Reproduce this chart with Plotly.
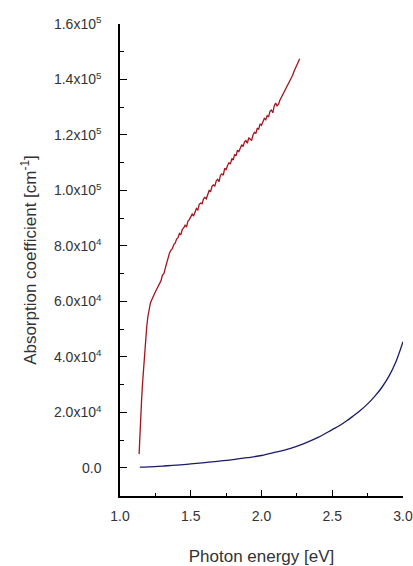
import plotly.graph_objects as go

red_x = [1.135, 1.140, 1.145, 1.153, 1.160, 1.166, 1.172, 1.180, 1.189, 1.197, 1.205, 1.215, 1.224, 1.235,
         1.25, 1.26, 1.275, 1.29, 1.30, 1.31, 1.32, 1.33, 1.34, 1.35, 1.36, 1.37, 1.38, 1.39, 1.40, 1.41,
         1.42, 1.43, 1.44, 1.45, 1.46, 1.47, 1.48, 1.49, 1.50, 1.51, 1.52, 1.53, 1.54, 1.55, 1.56, 1.57,
         1.58, 1.59, 1.60, 1.61, 1.62, 1.63, 1.64, 1.65, 1.66, 1.67, 1.68, 1.69, 1.70, 1.71, 1.72, 1.73,
         1.74, 1.75, 1.76, 1.77, 1.78, 1.79, 1.80, 1.81, 1.82, 1.83, 1.84, 1.85, 1.86, 1.87, 1.88, 1.89,
         1.90, 1.91, 1.92, 1.93, 1.94, 1.95, 1.96, 1.97, 1.98, 1.99, 2.00, 2.01, 2.02, 2.03, 2.04, 2.05,
         2.06, 2.07, 2.08, 2.09, 2.10, 2.11, 2.12, 2.13, 2.14, 2.15, 2.16, 2.17, 2.18, 2.19, 2.20, 2.21,
         2.22, 2.23, 2.24, 2.25, 2.26, 2.27]
red_y = [5000, 12000, 18000, 25000, 31000, 36000, 40000, 46000, 51000, 54500, 57000, 59500, 60500, 62000,
         63500, 64500, 66000, 67500, 69500, 70000, 72000, 74000, 75500, 77500, 78500, 79000, 80500, 81000,
         82500, 83000, 84500, 84000, 86000, 86500, 87500, 86800, 89000, 89500, 90500, 91500, 90800, 92500,
         93500, 93000, 95000, 95500, 95200, 97000, 97500, 97000, 99000, 100000, 99500, 101500, 102000,
         101500, 103500, 104000, 103200, 105500, 106000, 105500, 108000, 107500, 109000, 110000, 109500,
         111500, 111000, 113000, 112500, 114500, 114000, 115500, 116500, 115800, 117500, 118000, 117000,
         119000, 118500, 118000, 120000, 121000, 120500, 122500, 122000, 124000, 123500, 125000, 126000,
         125500, 127000, 126500, 128500, 129000, 128000, 130500, 131500, 130500, 131000, 132500, 133500,
         134500, 135000, 136000, 137000, 138500, 139500, 140500, 141500, 143000, 144000, 145000, 146500,
         147500]

blue_x = [1.14, 1.20, 1.30, 1.40, 1.50, 1.60, 1.70, 1.80, 1.90, 2.00, 2.10, 2.20, 2.30, 2.40, 2.50,
          2.55, 2.60, 2.65, 2.70, 2.75, 2.80, 2.85, 2.90, 2.95, 3.00]
blue_y = [300, 400, 700, 1000, 1450, 1900, 2450, 3000, 3700, 4500, 5700, 7000, 8800, 11000, 13800,
          15200, 16900, 18800, 20800, 23100, 25800, 29000, 33000, 38300, 45500]

x_ticks = [1.0, 1.5, 2.0, 2.5, 3.0]
x_tick_text = ["1.0", "1.5", "2.0", "2.5", "3.0"]
y_ticks = [0, 20000, 40000, 60000, 80000, 100000, 120000, 140000, 160000]
y_tick_text = ["0.0", "2.0x10<sup>4</sup>", "4.0x10<sup>4</sup>", "6.0x10<sup>4</sup>",
               "8.0x10<sup>4</sup>", "1.0x10<sup>5</sup>", "1.2x10<sup>5</sup>",
               "1.4x10<sup>5</sup>", "1.6x10<sup>5</sup>"]

fig = go.Figure()
fig.add_trace(go.Scatter(x=red_x, y=red_y, mode="lines",
                         line=dict(color="#a3141c", width=1.3), showlegend=False))
fig.add_trace(go.Scatter(x=blue_x, y=blue_y, mode="lines", line_shape="spline",
                         line=dict(color="#1c1a6b", width=1.3), showlegend=False))

font_family = "Liberation Sans, Arial, sans-serif"
fig.update_layout(
    width=413, height=566,
    margin=dict(l=120, r=10, t=24, b=70),
    paper_bgcolor="white", plot_bgcolor="white",
    font=dict(family=font_family, color="#333333"),
    xaxis=dict(
        range=[1.0, 3.0], tickvals=x_ticks, ticktext=x_tick_text, automargin=False,
        showline=True, linecolor="black", linewidth=1.5, mirror=False,
        ticks="inside", ticklen=6, tickwidth=1.2, tickcolor="black",
        minor=dict(ticks="inside", ticklen=3, dtick=0.25, tick0=1.0, tickcolor="black", tickwidth=1),
        showgrid=False, zeroline=False,
        tickfont=dict(size=14, color="#333333"),
        ticklabelstandoff=6, ticklabeloverflow="allow",
        title=dict(text="Photon energy [eV]", font=dict(size=17, color="#333333"), standoff=28),
    ),
    yaxis=dict(
        range=[-10100, 160000], tickvals=y_ticks, ticktext=y_tick_text, automargin=False,
        showline=True, linecolor="black", linewidth=1.5, mirror=False,
        ticks="inside", ticklen=7, tickwidth=1.2, tickcolor="black",
        minor=dict(ticks="inside", ticklen=4, dtick=10000, tick0=0, tickcolor="black", tickwidth=1),
        showgrid=False, zeroline=False,
        tickfont=dict(size=14, color="#333333"),
        ticklabelstandoff=14,
    ),
    annotations=[dict(
        text="Absorption coefficient [cm<sup>-1</sup>]", textangle=-90,
        xref="paper", yref="paper", x=-0.322, y=0.5, xanchor="center", yanchor="middle",
        showarrow=False, font=dict(size=17, color="#333333"),
    )],
)

fig.write_html("out.html", config={"displayModeBar": False},
               post_script="document.body.style.margin='0';document.body.style.overflow='hidden';")
